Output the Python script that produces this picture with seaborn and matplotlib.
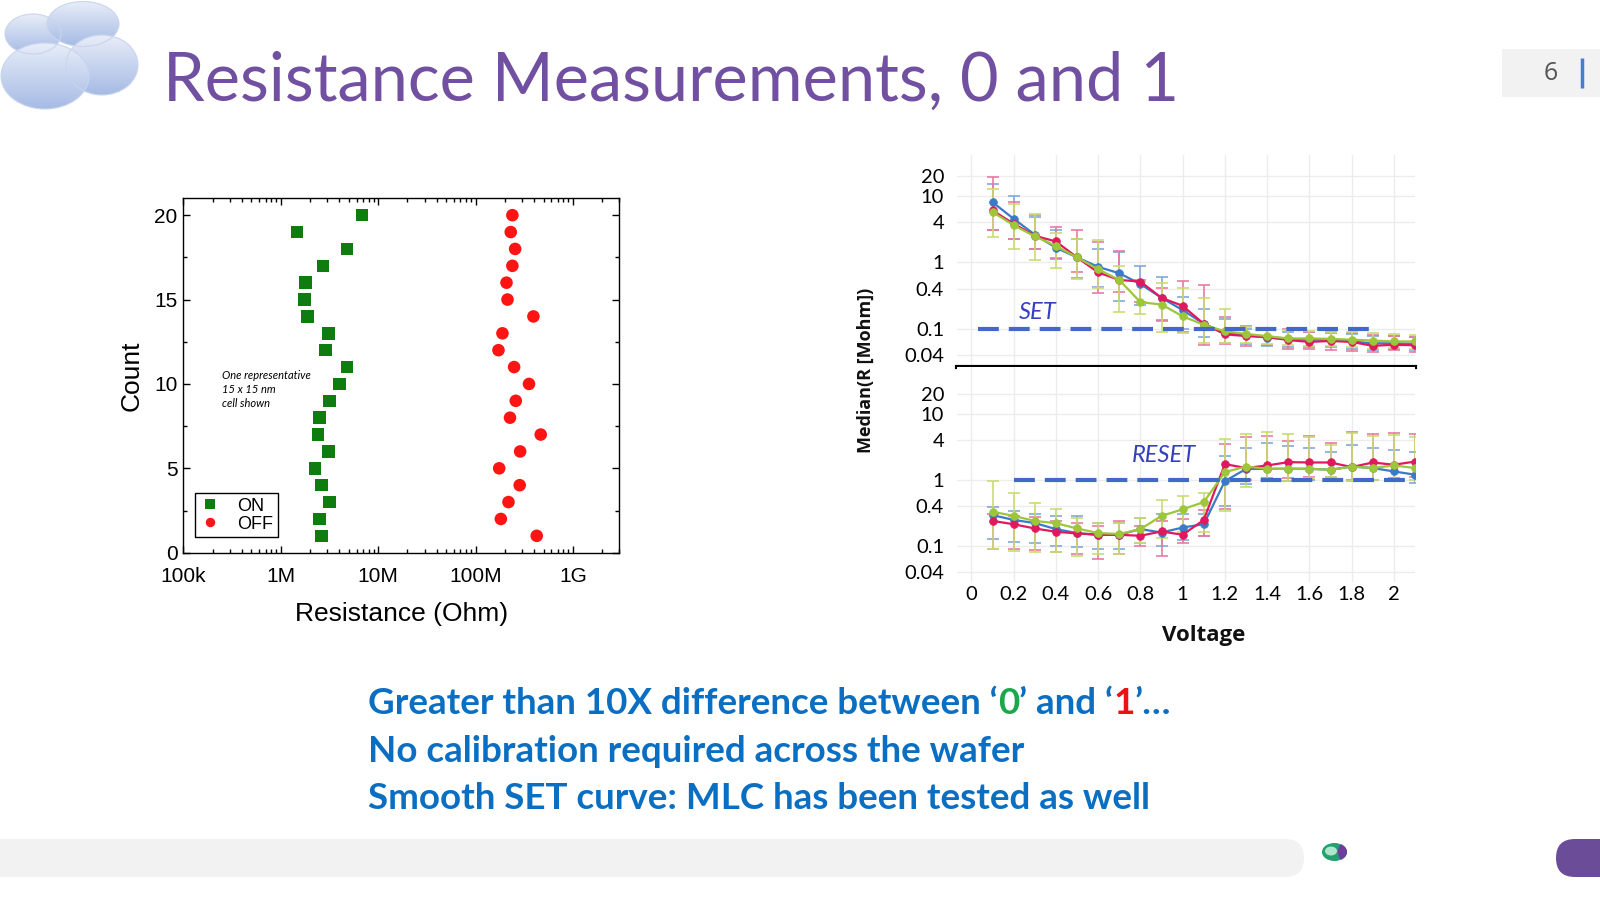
import numpy as np
import pandas as pd
import matplotlib
matplotlib.use("Agg")
import matplotlib.pyplot as plt
import seaborn as sns
from matplotlib.patches import Ellipse, Rectangle, FancyBboxPatch
from matplotlib.colors import LinearSegmentedColormap
from matplotlib.ticker import FixedLocator, LogLocator, NullFormatter, MultipleLocator

# ---------------- data: left chart, one 15x15 nm cell ----------------
count = list(range(1, 21))
r_on = [2.63e6, 2.49e6, 3.17e6, 2.61e6, 2.25e6, 3.08e6, 2.41e6, 2.50e6, 3.15e6, 4.0e6,
        4.8e6, 2.87e6, 3.08e6, 1.89e6, 1.75e6, 1.79e6, 2.73e6, 4.8e6, 1.47e6, 6.86e6]
r_off = [425e6, 182e6, 218e6, 284e6, 175e6, 287e6, 467e6, 226e6, 259e6, 354e6,
         249e6, 172e6, 189e6, 393e6, 213e6, 208e6, 239e6, 255e6, 230e6, 239e6]
res_ticks = [1e5, 1e6, 1e7, 1e8, 1e9]
res_labels = ["100k", "1M", "10M", "100M", "1G"]

# ---------------- data: right chart, median R [Mohm] vs voltage ----------------
volt = [0.1, 0.2, 0.3, 0.4, 0.5, 0.6, 0.7, 0.8, 0.9, 1.0, 1.1,
        1.2, 1.3, 1.4, 1.5, 1.6, 1.7, 1.8, 1.9, 2.0, 2.1]

set_blue = [8.0, 4.5, 2.6, 1.65, 1.18, 0.85, 0.68, 0.47, 0.29, 0.19, 0.118,
            0.086, 0.079, 0.073, 0.069, 0.068, 0.068, 0.064, 0.060, 0.060, 0.059]
set_blue_lo = [3.0, 2.2, 1.6, 1.14, 0.57, 0.42, 0.26, 0.23, 0.13, 0.10, 0.075,
               0.060, 0.058, 0.055, 0.052, 0.053, 0.052, 0.050, 0.048, 0.050, 0.048]
set_blue_hi = [15, 10, 4.8, 3.1, 2.2, 1.57, 1.4, 0.87, 0.6, 0.30, 0.20,
               0.14, 0.10, 0.095, 0.088, 0.088, 0.086, 0.082, 0.078, 0.076, 0.074]
set_red = [6.0, 3.8, 2.5, 2.05, 1.18, 0.70, 0.54, 0.51, 0.29, 0.22, 0.118,
           0.082, 0.077, 0.075, 0.067, 0.063, 0.065, 0.063, 0.055, 0.057, 0.056]
set_red_lo = [3.1, 2.2, 1.57, 1.12, 0.71, 0.34, 0.36, 0.25, 0.135, 0.09, 0.057,
              0.058, 0.055, 0.056, 0.050, 0.049, 0.048, 0.046, 0.045, 0.047, 0.045]
set_red_hi = [19, 8, 5.1, 3.4, 3.1, 2.0, 1.48, 0.54, 0.41, 0.52, 0.455,
              0.15, 0.11, 0.10, 0.10, 0.09, 0.092, 0.085, 0.080, 0.076, 0.074]
set_green = [5.7, 3.6, 2.45, 1.75, 1.18, 0.78, 0.54, 0.25, 0.23, 0.153, 0.114,
             0.091, 0.083, 0.077, 0.071, 0.071, 0.070, 0.068, 0.066, 0.064, 0.064]
set_green_lo = [2.4, 1.57, 1.06, 0.82, 0.56, 0.41, 0.175, 0.166, 0.09, 0.085, 0.06,
                0.06, 0.06, 0.058, 0.056, 0.055, 0.054, 0.052, 0.050, 0.051, 0.050]
set_green_hi = [12.5, 7.5, 5.4, 2.75, 2.2, 2.15, 0.89, 0.5, 0.48, 0.41, 0.29,
                0.2, 0.105, 0.10, 0.095, 0.093, 0.090, 0.088, 0.085, 0.082, 0.080]

reset_blue = [0.29, 0.245, 0.22, 0.178, 0.155, 0.146, 0.146, 0.178, 0.158, 0.188, 0.211,
              0.95, 1.45, 1.46, 1.46, 1.46, 1.41, 1.58, 1.50, 1.33, 1.19]
reset_blue_lo = [0.126, 0.115, 0.11, 0.10, 0.095, 0.09, 0.09, 0.11, 0.10, 0.12, 0.138,
                 0.40, 0.85, 0.95, 0.95, 1.0, 1.0, 0.95, 1.0, 0.95, 0.9]
reset_blue_hi = [0.38, 0.33, 0.30, 0.28, 0.28, 0.22, 0.22, 0.26, 0.30, 0.30, 0.30,
                 2.3, 3.0, 3.6, 3.2, 3.0, 2.6, 3.3, 3.0, 2.8, 2.6]
reset_red = [0.237, 0.211, 0.182, 0.162, 0.153, 0.146, 0.146, 0.141, 0.164, 0.146, 0.245,
             1.72, 1.50, 1.64, 1.84, 1.82, 1.82, 1.55, 1.82, 1.68, 1.88]
reset_red_lo = [0.09, 0.09, 0.085, 0.08, 0.075, 0.063, 0.075, 0.10, 0.07, 0.11, 0.14,
                0.36, 1.0, 1.05, 1.05, 1.1, 1.1, 1.0, 1.0, 1.05, 1.1]
reset_red_hi = [0.30, 0.28, 0.27, 0.24, 0.22, 0.20, 0.237, 0.20, 0.24, 0.25, 0.35,
                3.5, 4.5, 4.6, 3.8, 4.6, 3.6, 5.3, 5.0, 5.1, 5.0]
reset_green = [0.327, 0.282, 0.237, 0.219, 0.182, 0.155, 0.150, 0.178, 0.282, 0.355, 0.457,
               1.30, 1.58, 1.46, 1.46, 1.46, 1.41, 1.58, 1.50, 1.64, 1.50]
reset_green_lo = [0.09, 0.084, 0.08, 0.08, 0.07, 0.075, 0.075, 0.11, 0.13, 0.16, 0.16,
                  0.33, 0.78, 0.94, 0.94, 1.06, 1.1, 0.95, 1.0, 1.0, 1.0]
reset_green_hi = [0.95, 0.63, 0.45, 0.355, 0.26, 0.22, 0.22, 0.26, 0.50, 0.56, 0.62,
                  4.2, 4.9, 5.3, 4.9, 4.4, 3.35, 5.1, 4.6, 4.8, 4.5]

r_ticks = [0.04, 0.1, 0.4, 1, 4, 10, 20]
r_labels = ["0.04", "0.1", "0.4", "1", "4", "10", "20"]
v_ticks = [0, 0.2, 0.4, 0.6, 0.8, 1.0, 1.2, 1.4, 1.6, 1.8, 2.0]
v_labels = ["0", "0.2", "0.4", "0.6", "0.8", "1", "1.2", "1.4", "1.6", "1.8", "2"]
set_level, set_span = 0.1, (0.03, 1.9)
reset_level, reset_span = 1.0, (0.2, 2.1)

bullets = ["No calibration required across the wafer",
           "Smooth SET curve: MLC has been tested as well"]

# ---------------- figure ----------------
W, H = 1600, 900
fig = plt.figure(figsize=(16, 9), dpi=100)
fig.patch.set_facecolor("white")


def box(x0, y0, x1, y1):
    # pixel box (top-left origin) -> figure fraction rect
    return [x0 / W, 1 - y1 / H, (x1 - x0) / W, (y1 - y0) / H]


# decoration layer in pixel coordinates
deco = fig.add_axes([0, 0, 1, 1])
deco.axis("off")

grad = np.linspace(0, 1, 64).reshape(-1, 1)
cloud_cmap = LinearSegmentedColormap.from_list("cloud", ["#e8edf8", "#a6bbe5"])
clouds = [(33, 34, 56, 40), (83, 24, 72, 45), (102, 65, 72, 60), (45, 76, 88, 66)]
for cx, cy, w, h in clouds:
    e = Ellipse((cx, cy), w, h, facecolor="none", edgecolor="#c9d5ee", lw=0.8, zorder=3)
    deco.add_patch(e)
    im = deco.imshow(grad, cmap=cloud_cmap, aspect="auto", zorder=2,
                     extent=(cx - w / 2, cx + w / 2, cy + h / 2, cy - h / 2))
    im.set_clip_path(e)

deco.text(163, 101, "Resistance Measurements, 0 and 1", fontsize=48, color="#7150a2",
          family="Lato", weight="normal", va="baseline", ha="left")

deco.add_patch(Rectangle((1502, 49), 110, 48, fc="#f2f2f2", ec="none"))
deco.text(1551, 74, "6", fontsize=18, color="#555555", family="Open Sans", ha="center", va="center")
deco.plot([1582, 1582], [58, 88], color="#4a7bd0", lw=2.5, solid_capstyle="butt")

deco.add_patch(FancyBboxPatch((-40, 839), 1344, 38, boxstyle="round,pad=0,rounding_size=19",
                              fc="#f2f2f2", ec="none"))
deco.add_patch(FancyBboxPatch((1556, 839), 100, 38, boxstyle="round,pad=0,rounding_size=19",
                              fc="#6b4c98", ec="none"))
logo = Ellipse((1334.5, 852), 25, 18, fc="#22a06e", ec="none")
deco.add_patch(logo)
deco.add_patch(Ellipse((1331, 851), 12, 9, fc="#c8f2dc", ec="none", alpha=0.85))
crescent = Ellipse((1344, 852), 12, 18, fc="#6a3d9e", ec="none")
deco.add_patch(crescent)
crescent.set_clip_path(logo)

# bullet text (blue, bold) with coloured 0 / 1
txt_blue = "#0a6fc2"
kw = dict(fontsize=26.5, weight="bold", family="Lato")
t = deco.text(368, 714, "Greater than 10X difference between \u2018", color=txt_blue,
              va="baseline", ha="left", **kw)
for piece, col in [("0", "#1aa84a"), ("\u2019 and \u2018", txt_blue), ("1", "#ee1111"),
                   ("\u2019\u2026", txt_blue)]:
    t = deco.annotate(piece, xy=(1, 0), xycoords=t, va="bottom", ha="left", color=col, **kw)
for i, line in enumerate(bullets):
    deco.text(368, 762 + 47 * i, line, color=txt_blue, va="baseline", ha="left", **kw)

# right chart axis titles
deco.text(866, 370, "Median(R [Mohm])", rotation=90, fontsize=13, weight="bold",
          family="Open Sans", ha="center", va="center", color="#111111")
deco.text(1204, 635, "Voltage", fontsize=16, weight="bold", family="Open Sans",
          ha="center", va="center", color="#111111")

deco.set_xlim(0, W)
deco.set_ylim(H, 0)

# ---------------- left chart ----------------
axL = fig.add_axes(box(183.3, 198.3, 619.4, 552.7))
df_left = pd.DataFrame({
    "Resistance": r_on + r_off,
    "Count": count + count,
    "State": ["ON"] * len(count) + ["OFF"] * len(count),
})
axL.set_xscale("log")
sns.scatterplot(data=df_left, x="Resistance", y="Count", hue="State", style="State",
                palette={"ON": "#0e7c0e", "OFF": "#ff1414"}, markers={"ON": "s", "OFF": "o"},
                s=82, linewidth=0, ax=axL, zorder=3)
axL.set_xlim(1e5, 3e9)
axL.set_ylim(0, 21)
axL.xaxis.set_major_locator(FixedLocator(res_ticks))
axL.set_xticklabels(res_labels)
axL.xaxis.set_minor_locator(LogLocator(base=10, subs=np.arange(2, 10)))
axL.xaxis.set_minor_formatter(NullFormatter())
axL.yaxis.set_major_locator(MultipleLocator(5))
axL.yaxis.set_minor_locator(MultipleLocator(2.5))
axL.tick_params(which="both", direction="in", top=True, right=True, width=1, color="black")
axL.tick_params(which="major", length=5, labelsize=15, pad=4)
axL.tick_params(which="minor", length=3)
axL.tick_params(axis="x", which="major", pad=10)
for lab in axL.get_xticklabels() + axL.get_yticklabels():
    lab.set_family("Liberation Sans")
for sp in axL.spines.values():
    sp.set_color("black")
    sp.set_linewidth(1)
axL.set_xlabel("Resistance (Ohm)", fontsize=19, family="Liberation Sans", labelpad=12)
axL.set_ylabel("Count", fontsize=19, family="Liberation Sans", labelpad=8)
h, l = axL.get_legend_handles_labels()
leg = axL.legend(h, l, loc="lower left", bbox_to_anchor=(0.027, 0.044), borderaxespad=0,
                 frameon=True, fancybox=False, edgecolor="black", framealpha=1,
                 prop={"family": "Liberation Sans", "size": 13}, markerscale=0.75,
                 labelspacing=0.05, borderpad=0.25, handlelength=1.2, handletextpad=0.9)
leg.get_frame().set_linewidth(1)
axL.text(0.088, 0.516, "One representative\n15 x 15 nm\ncell shown", transform=axL.transAxes,
         fontsize=8, style="italic", family="Lato", va="top", ha="left", linespacing=1.35)

# ---------------- right chart ----------------
ax_set = fig.add_axes(box(956.6, 155, 1415, 367.3))
ax_rst = fig.add_axes(box(956.6, 367.3, 1415, 581.6))

series_col = {"blue": ("#3a7bc8", "#7ea7da"), "red": ("#e0185e", "#ea77a0"),
              "green": ("#9dc63a", "#c9dc6e")}
panels = [
    (ax_set, [("blue", set_blue, set_blue_lo, set_blue_hi),
              ("red", set_red, set_red_lo, set_red_hi),
              ("green", set_green, set_green_lo, set_green_hi)], (0.0261, 41.1)),
    (ax_rst, [("blue", reset_blue, reset_blue_lo, reset_blue_hi),
              ("red", reset_red, reset_red_lo, reset_red_hi),
              ("green", reset_green, reset_green_lo, reset_green_hi)], (0.0285, 50.4)),
]
for ax, series, ylim in panels:
    ax.set_yscale("log")
    for name, med, lo, hi in series:
        med_a, lo_a, hi_a = np.array(med), np.array(lo), np.array(hi)
        ax.errorbar(volt, med_a, yerr=[med_a - lo_a, hi_a - med_a], fmt="none",
                    ecolor=series_col[name][1], elinewidth=1.3, capsize=4, capthick=1.3,
                    alpha=0.9, zorder=2)
    for name, med, lo, hi in series:
        sns.lineplot(x=volt, y=med, ax=ax, color=series_col[name][0], lw=1.6, marker="o",
                     markersize=5.5, markeredgewidth=0.6, markeredgecolor=series_col[name][0],
                     zorder=3)
    ax.set_xlim(-0.07, 2.1)
    ax.set_ylim(*ylim)
    ax.yaxis.set_major_locator(FixedLocator(r_ticks))
    ax.yaxis.set_minor_locator(FixedLocator([]))
    ax.set_yticklabels(r_labels)
    ax.xaxis.set_major_locator(FixedLocator(v_ticks))
    ax.grid(True, which="major", color="#ececec", lw=1)
    ax.set_axisbelow(True)
    ax.tick_params(length=0, labelsize=14.5, pad=9)
    for lab in ax.get_yticklabels() + ax.get_xticklabels():
        lab.set_family("Lato")
    for sp in ax.spines.values():
        sp.set_visible(False)
    ax.set_xlabel("")
    ax.set_ylabel("")

ax_set.set_xticklabels([])
ax_rst.set_xticklabels(v_labels)
ax_rst.tick_params(axis="x", pad=3)
ax_set.spines["bottom"].set_visible(True)
ax_set.spines["bottom"].set_color("black")
ax_set.spines["bottom"].set_linewidth(3)

ax_set.hlines(set_level, *set_span, colors="#4169c8", lw=3, linestyles=(0, (5, 2.4)), zorder=4)
ax_rst.hlines(reset_level, *reset_span, colors="#4169c8", lw=3, linestyles=(0, (5, 2.4)), zorder=4)
ax_set.text(0.315, 0.172, "SET", fontsize=17, style="italic", family="Lato", color="#3440c0",
            ha="center", va="center")
ax_rst.text(0.91, 2.36, "RESET", fontsize=17, style="italic", family="Lato", color="#3440c0",
            ha="center", va="center")

fig.savefig("out.png", dpi=100, facecolor="white")
